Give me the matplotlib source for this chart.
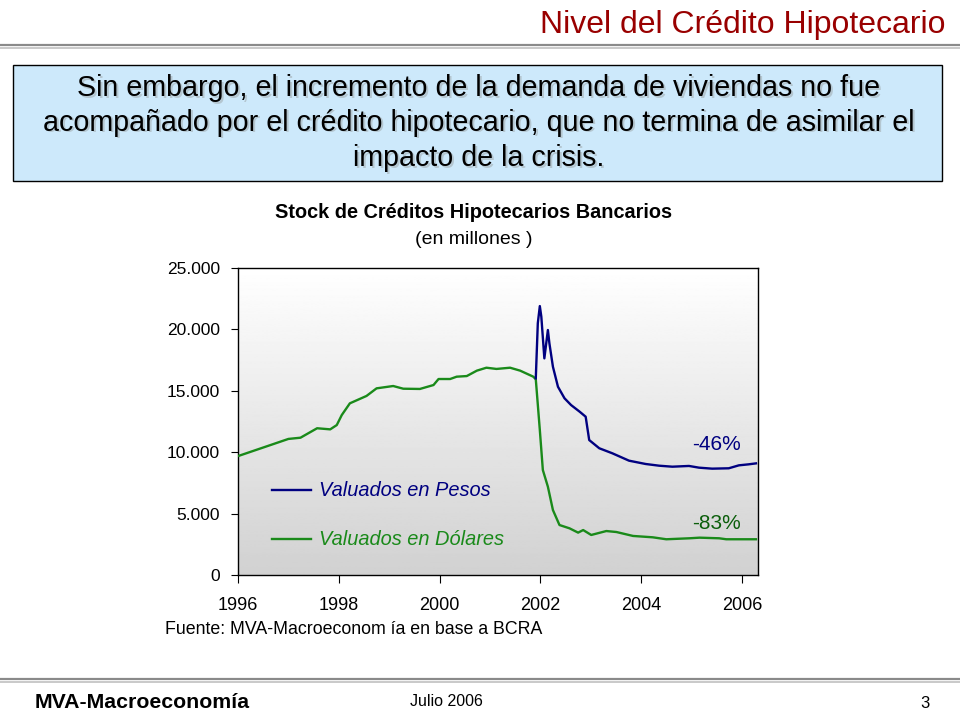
import numpy as np
import matplotlib.pyplot as plt
from matplotlib.patches import Rectangle
from matplotlib.lines import Line2D

plt.rcParams['font.family'] = ['Liberation Sans', 'DejaVu Sans']

# Stock de créditos hipotecarios (millones), años decimales
years_usd = [1996.02, 1996.65, 1997.00, 1997.24, 1997.57, 1997.83, 1997.96, 1998.06,
             1998.22, 1998.55, 1998.75, 1999.08, 1999.28, 1999.61, 1999.88, 1999.98,
             2000.21, 2000.34, 2000.54, 2000.74, 2000.93, 2001.13, 2001.40, 2001.60,
             2001.86, 2001.91, 2001.99, 2002.05, 2002.15, 2002.25, 2002.38, 2002.58,
             2002.75, 2002.85, 2003.01, 2003.31, 2003.51, 2003.84, 2004.23, 2004.50,
             2004.96, 2005.16, 2005.55, 2005.69, 2006.28]
valores_usd = [9710, 10590, 11080, 11180, 11950, 11860, 12210, 13030,
               13980, 14580, 15200, 15390, 15170, 15150, 15470, 15960,
               15960, 16150, 16200, 16640, 16880, 16780, 16880, 16640,
               16150, 15940, 11810, 8550, 7190, 5290, 4070, 3800,
               3450, 3660, 3260, 3580, 3500, 3180, 3070, 2910,
               2990, 3040, 2990, 2910, 2910]

years_ars = [2001.91, 2001.95, 2001.99, 2002.02, 2002.08, 2002.15, 2002.18, 2002.25,
             2002.35, 2002.48, 2002.61, 2002.78, 2002.90, 2002.97, 2003.17, 2003.43,
             2003.76, 2004.09, 2004.36, 2004.62, 2004.95, 2005.15, 2005.41, 2005.74,
             2005.94, 2006.13, 2006.28]
valores_ars = [16020, 20500, 21900, 21030, 17640, 19950, 18870, 16960,
               15330, 14390, 13840, 13300, 12890, 10990, 10320, 9910,
               9310, 9040, 8900, 8820, 8880, 8740, 8660, 8690,
               8930, 9010, 9090]

yticks = [0, 5000, 10000, 15000, 20000, 25000]
ytick_labels = ['0', '5.000', '10.000', '15.000', '20.000', '25.000']
xticks = [1996, 1998, 2000, 2002, 2004, 2006]

fig = plt.figure(figsize=(9.6, 7.2), dpi=100)
fig.patch.set_facecolor('white')

# --- encabezado de la diapositiva ---
fig.text(945 / 960, 1 - 25 / 720, 'Nivel del Crédito Hipotecario', ha='right', va='center',
         fontsize=23, color='#990000')
fig.add_artist(Line2D([0, 1], [1 - 44.5 / 720] * 2, color='#8a8a8a', lw=1.6))
fig.add_artist(Line2D([0, 1], [1 - 47.5 / 720] * 2, color='#c0c0c0', lw=1.2))

box = Rectangle((13 / 960, 1 - 181 / 720), 929 / 960, 116 / 720, transform=fig.transFigure,
                facecolor='#cde9fb', edgecolor='black', lw=1.0)
fig.add_artist(box)
lineas = ['Sin embargo, el incremento de la demanda de viviendas no fue',
          'acompañado por el crédito hipotecario, que no termina de asimilar el',
          'impacto de la crisis.']
for i, t in enumerate(lineas):
    y = 1 - (88 + 35 * i) / 720
    fig.text(479 / 960 + 1.5 / 960, y - 1.5 / 720, t, ha='center', va='center',
             fontsize=20.6, color='#b4c6d0')
    fig.text(479 / 960, y, t, ha='center', va='center', fontsize=20.6, color='black')

# --- gráfico ---
fig.text(474 / 960, 1 - 212 / 720, 'Stock de Créditos Hipotecarios Bancarios', ha='center',
         va='center', fontsize=14.3, fontweight='bold')
fig.text(474 / 960, 1 - 240 / 720, '(en millones )', ha='center', va='center', fontsize=14)

ax = fig.add_axes([238 / 960, 1 - 575 / 720, 520 / 960, 307 / 720])
grad = np.linspace(1.0, 0.82, 256).reshape(-1, 1)
ax.imshow(grad, cmap='gray', vmin=0, vmax=1, aspect='auto',
          extent=[1996, 2006.32, 0, 25000], origin='upper', zorder=0)

ax.plot(years_usd, valores_usd, color='#1a8a1a', lw=1.7, zorder=3)
ax.plot(years_ars, valores_ars, color='#000080', lw=1.7, zorder=4)

ax.set_xlim(1996, 2006.32)
ax.set_ylim(0, 25000)
ax.set_yticks(yticks)
ax.set_yticklabels(ytick_labels)
ax.set_xticks(xticks)
ax.tick_params(axis='y', direction='out', length=5, labelsize=12.5, pad=8)
ax.tick_params(axis='x', direction='out', length=6, labelsize=13, pad=10)
for s in ax.spines.values():
    s.set_linewidth(1.0)

# leyenda manual
ax.plot([1996.68, 1997.45], [6900, 6900], color='#000080', lw=1.7, zorder=5)
ax.text(1997.6, 6900, 'Valuados en Pesos', color='#000080', fontsize=14.4, style='italic',
        va='center', ha='left')
ax.plot([1996.68, 1997.45], [2900, 2900], color='#1a8a1a', lw=1.7, zorder=5)
ax.text(1997.6, 2900, 'Valuados en Dólares', color='#1a8a1a', fontsize=14.4, style='italic',
        va='center', ha='left')

ax.text(2005.5, 10600, '-46%', color='#000080', fontsize=15, ha='center', va='center')
ax.text(2005.5, 4200, '-83%', color='#0b5e0b', fontsize=15, ha='center', va='center')

fig.text(165 / 960, 1 - 629 / 720, 'Fuente: MVA-Macroeconom ía en base a BCRA', ha='left',
         va='center', fontsize=12.8)

# --- pie de la diapositiva ---
fig.add_artist(Line2D([0, 1], [1 - 678.5 / 720] * 2, color='#8a8a8a', lw=1.6))
fig.add_artist(Line2D([0, 1], [1 - 681.5 / 720] * 2, color='#c0c0c0', lw=1.2))
fig.text(35 / 960, 1 - 703 / 720, 'MVA-Macroeconomía', ha='left', va='center',
         fontsize=15.3, fontweight='bold')
fig.text(446 / 960, 1 - 701 / 720, 'Julio 2006', ha='center', va='center', fontsize=11.5)
fig.text(930 / 960, 1 - 703 / 720, '3', ha='right', va='center', fontsize=12)

fig.savefig('out.png', dpi=100)
